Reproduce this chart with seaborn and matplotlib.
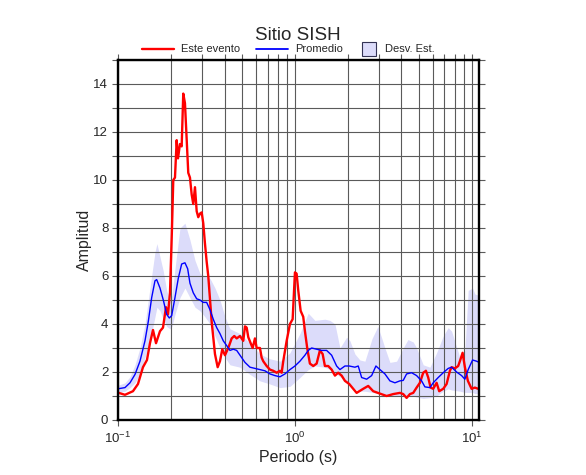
import numpy as np
import pandas as pd
import matplotlib
matplotlib.use("Agg")
import matplotlib.pyplot as plt
import seaborn as sns
from matplotlib.lines import Line2D
from matplotlib.patches import Rectangle
from matplotlib.ticker import MultipleLocator, LogLocator, NullFormatter

# ---------------- data ----------------
ev_period = [0.100, 0.1095, 0.1215, 0.1297, 0.1384, 0.1458, 0.1516, 0.1577, 0.164, 0.1727,
             0.1796, 0.1867, 0.1916, 0.1967, 0.2019, 0.2053, 0.2099, 0.2146, 0.2183, 0.2240,
             0.2290, 0.2338, 0.2390, 0.2444, 0.2495, 0.2551, 0.2608, 0.2663, 0.2723, 0.2784,
             0.2842, 0.2906, 0.2971, 0.3033, 0.3101, 0.3170, 0.3237, 0.3383, 0.3532, 0.3658,
             0.3770, 0.3884, 0.4023, 0.4200, 0.4390, 0.4541, 0.4685, 0.4891, 0.5105, 0.5219,
             0.5336, 0.5449, 0.5621, 0.5768, 0.5943, 0.6076, 0.6343, 0.6484, 0.6621, 0.6920,
             0.7224, 0.7541, 0.7881, 0.8228, 0.8412, 0.8590, 0.8978, 0.9371, 0.9705, 1.000,
             1.022, 1.044, 1.077, 1.114, 1.139, 1.173, 1.215, 1.269, 1.326, 1.384,
             1.434, 1.477, 1.542, 1.612, 1.683, 1.756, 1.836, 1.917, 2.027, 2.232,
             2.432, 2.595, 2.770, 3.022, 3.297, 3.593, 3.920, 4.092, 4.277, 4.465,
             4.661, 4.871, 5.085, 5.309, 5.498, 5.665, 5.845, 6.046, 6.319, 6.537,
             6.887, 7.197, 7.513, 7.681, 8.017, 8.368, 8.555, 8.862, 9.131, 9.494,
             9.961, 10.40, 10.85]
ev_amp = [1.14, 1.05, 1.2, 1.5, 2.2, 2.5, 3.2, 3.75, 3.2, 3.7,
          3.85, 4.7, 4.4, 5.3, 8.0, 10.0, 10.1, 11.66, 10.9, 11.5,
          11.4, 13.6, 13.2, 11.7, 10.3, 10.1, 9.4, 9.0, 9.7, 8.7,
          8.45, 8.6, 8.65, 8.2, 7.35, 6.6, 6.0, 4.1, 2.75, 2.2,
          2.45, 2.95, 2.7, 3.0, 3.4, 3.5, 3.4, 3.5, 3.3, 3.9,
          3.85, 3.45, 3.2, 3.0, 3.4, 3.0, 3.0, 2.6, 2.45, 2.25,
          2.1, 2.05, 1.97, 2.05, 1.97, 2.45, 3.3, 4.0, 4.2, 6.15,
          6.1, 5.4, 4.55, 4.3, 3.7, 3.0, 2.35, 2.25, 2.35, 2.9,
          2.75, 2.25, 2.25, 2.1, 1.85, 1.97, 1.85, 1.63, 1.5, 1.13,
          1.3, 1.42, 1.2, 1.1, 1.0, 1.08, 1.13, 1.08, 0.92, 1.08,
          1.13, 1.35, 1.55, 1.97, 2.05, 1.77, 1.35, 1.3, 1.55, 1.2,
          1.3, 1.5, 2.05, 2.2, 2.15, 2.25, 2.45, 2.8, 2.2, 1.63,
          1.3, 1.35, 1.3]

avg_period = [0.100, 0.1095, 0.1169, 0.1248, 0.1331, 0.1421, 0.1483, 0.155, 0.1618, 0.1654,
              0.1727, 0.1803, 0.1884, 0.195, 0.2011, 0.2099, 0.2191, 0.2290, 0.2390, 0.2476,
              0.2551, 0.2663, 0.2784, 0.2906, 0.3033, 0.3170, 0.3309, 0.3454, 0.3611, 0.3770,
              0.3935, 0.4113, 0.4294, 0.4482, 0.4685, 0.4891, 0.5219, 0.5570, 0.5943, 0.6343,
              0.6768, 0.7224, 0.7709, 0.8228, 0.8782, 0.9371, 1.000, 1.067, 1.139, 1.189,
              1.243, 1.326, 1.415, 1.510, 1.612, 1.720, 1.796, 1.917, 2.027, 2.183,
              2.279, 2.382, 2.542, 2.713, 2.869, 3.022, 3.225, 3.442, 3.673, 3.920,
              4.092, 4.277, 4.565, 4.871, 5.199, 5.427, 5.791, 6.046, 6.452, 6.887,
              7.349, 7.681, 8.196, 8.747, 9.131, 9.531, 10.09, 10.63, 10.99]
avg_amp = [1.3, 1.35, 1.55, 1.9, 2.45, 3.3, 4.1, 5.1, 5.8, 5.85,
           5.5, 5.0, 4.4, 4.25, 4.35, 5.1, 5.9, 6.5, 6.55, 6.3,
           5.7, 5.3, 5.05, 5.0, 4.9, 4.9, 4.6, 4.2, 3.85, 3.6,
           3.3, 3.1, 2.9, 2.95, 2.9, 2.7, 2.4, 2.2, 2.15, 2.1,
           2.05, 1.92, 1.85, 1.8, 1.92, 2.1, 2.25, 2.45, 2.7, 2.9,
           3.0, 2.95, 2.9, 2.9, 2.7, 2.25, 2.1, 2.25, 2.25, 2.2,
           2.25, 1.77, 1.7, 1.85, 2.25, 2.1, 1.92, 1.63, 1.55, 1.63,
           1.65, 1.92, 1.97, 1.85, 1.63, 1.38, 1.35, 1.55, 1.77, 1.97,
           2.15, 2.2, 2.0, 1.85, 1.7, 2.1, 2.5, 2.45, 2.4]

std_period = [0.100, 0.1095, 0.1169, 0.1248, 0.1331, 0.1421, 0.1516, 0.1618, 0.166, 0.1727,
              0.1803, 0.1884, 0.1967, 0.2019, 0.2099, 0.2240, 0.2390, 0.2551, 0.2723, 0.2906,
              0.3101, 0.3309, 0.3532, 0.3770, 0.4023, 0.4294, 0.4891, 0.5570, 0.6343, 0.7224,
              0.8228, 0.9371, 1.067, 1.189, 1.297, 1.477, 1.577, 1.683, 1.796, 1.960,
              2.045, 2.183, 2.33, 2.486, 2.73, 2.944, 3.225, 3.442, 3.755, 4.092,
              4.350, 4.661, 4.871, 5.309, 5.791, 6.319, 6.887, 7.349, 7.681, 8.555,
              9.131, 9.531, 10.09, 10.40, 10.85]
std_hi = [1.45, 1.55, 1.8, 2.3, 3.0, 4.0, 5.5, 7.0, 7.35, 6.8,
          6.2, 5.4, 5.0, 5.2, 6.3, 8.0, 8.2, 7.5, 6.65, 6.1,
          6.0, 5.9, 5.5, 5.0, 4.3, 3.8, 3.6, 3.2, 2.75, 2.55,
          2.45, 2.8, 3.6, 4.45, 4.15, 4.2, 4.15, 4.0, 3.0, 3.45,
          3.3, 2.75, 2.5, 2.45, 3.4, 3.9, 3.0, 2.4, 2.45, 3.0,
          3.35, 3.25, 3.0, 2.3, 2.2, 2.8, 3.5, 3.85, 3.7, 2.6,
          2.9, 5.4, 5.5, 5.25, 5.2]
std_lo = [1.15, 1.2, 1.35, 1.55, 1.9, 2.6, 3.3, 4.3, 4.7, 4.55,
          4.2, 3.9, 3.8, 3.9, 4.4, 5.1, 5.5, 5.1, 4.7, 4.55,
          4.3, 4.0, 3.5, 3.0, 2.6, 2.3, 2.2, 1.9, 1.63, 1.5,
          1.35, 1.4, 1.77, 2.1, 2.25, 2.2, 2.1, 1.97, 1.8, 1.6,
          1.5, 1.3, 1.2, 1.2, 1.15, 1.1, 1.05, 1.0, 1.0, 1.0,
          1.02, 1.0, 0.95, 0.9, 0.93, 1.0, 1.2, 1.3, 1.25, 1.2,
          1.15, 1.15, 1.15, 1.1, 1.1]

title = "Sitio SISH"
labels = ["Este evento", "Promedio", "Desv. Est."]
xlabel = "Periodo (s)"
ylabel = "Amplitud"

# ---------------- style ----------------
sns.set_style("ticks")
plt.rcParams["font.family"] = ["Liberation Sans", "DejaVu Sans"]
plt.rcParams["mathtext.fontset"] = "custom"
plt.rcParams["mathtext.rm"] = "Liberation Sans"
plt.rcParams["mathtext.it"] = "Liberation Sans:italic"

RED = "#ff0000"
BLUE = "#0000ff"
BAND = "#dcdcfa"
GRID = "#5a5a5a"

W, H = 586, 475
fig = plt.figure(figsize=(W / 100, H / 100), dpi=100)
ax = fig.add_axes([118 / W, 55 / H, (478.5 - 118) / W, (420 - 60) / H])

ev = pd.DataFrame({"period": ev_period, "amp": ev_amp})
avg = pd.DataFrame({"period": avg_period, "amp": avg_amp})

ax.fill_between(std_period, std_lo, std_hi, color=BAND, linewidth=0, zorder=1)
sns.lineplot(data=avg, x="period", y="amp", ax=ax, color=BLUE, lw=1.0,
             estimator=None, sort=False, zorder=4)
sns.lineplot(data=ev, x="period", y="amp", ax=ax, color=RED, lw=1.7,
             estimator=None, sort=False, zorder=3)

ax.set_xscale("log")
ax.set_xlim(0.1, 10.9)
ax.set_ylim(0, 15)
ax.yaxis.set_major_locator(MultipleLocator(2))
ax.yaxis.set_minor_locator(MultipleLocator(1))
ax.xaxis.set_major_locator(LogLocator(base=10, numticks=10))
ax.xaxis.set_minor_locator(LogLocator(base=10, subs=np.arange(2, 10), numticks=20))
ax.xaxis.set_minor_formatter(NullFormatter())

ax.grid(which="both", axis="both", color=GRID, lw=0.8, zorder=2)
ax.set_axisbelow(False)
for gl in ax.get_xgridlines() + ax.get_ygridlines():
    gl.set_zorder(2)

for s in ax.spines.values():
    s.set_linewidth(1.7)
    s.set_color("black")
    s.set_zorder(6)

ax.tick_params(axis="y", which="both", left=True, right=True, direction="out",
               length=4, width=0.8, color=GRID, labelsize=9.5, pad=3)
ax.tick_params(axis="x", which="major", bottom=True, top=True, direction="out",
               length=4, width=0.8, color=GRID, labelsize=9.5, pad=4)
ax.tick_params(axis="x", which="minor", bottom=False, top=True, direction="out",
               length=4, width=0.8, color=GRID)

ax.set_xlabel(xlabel, fontsize=11.5, labelpad=3)
ax.set_ylabel(ylabel, fontsize=11.5, labelpad=1)

fig.text(298 / W, 1 - 40 / H, title, ha="center", va="baseline", fontsize=13.5)

# legend drawn in figure pixel positions (as in the reference header)
def fx(px):
    return px / W

def fy(py):
    return 1 - py / H

ly = 48.5
fig.add_artist(Line2D([fx(142), fx(174)], [fy(ly), fy(ly)], color=RED, lw=1.7))
fig.text(fx(181), fy(ly), labels[0], ha="left", va="center", fontsize=8)
fig.add_artist(Line2D([fx(256), fx(288)], [fy(ly), fy(ly)], color=BLUE, lw=1.3))
fig.text(fx(295), fy(ly), labels[1], ha="left", va="center", fontsize=8)
fig.add_artist(Rectangle((fx(362), fy(55.5)), fx(14), 14 / H, facecolor=BAND,
                         edgecolor="#333355", lw=0.8, transform=fig.transFigure))
fig.text(fx(385), fy(ly), labels[2], ha="left", va="center", fontsize=8)

fig.savefig("out.png", dpi=100)
